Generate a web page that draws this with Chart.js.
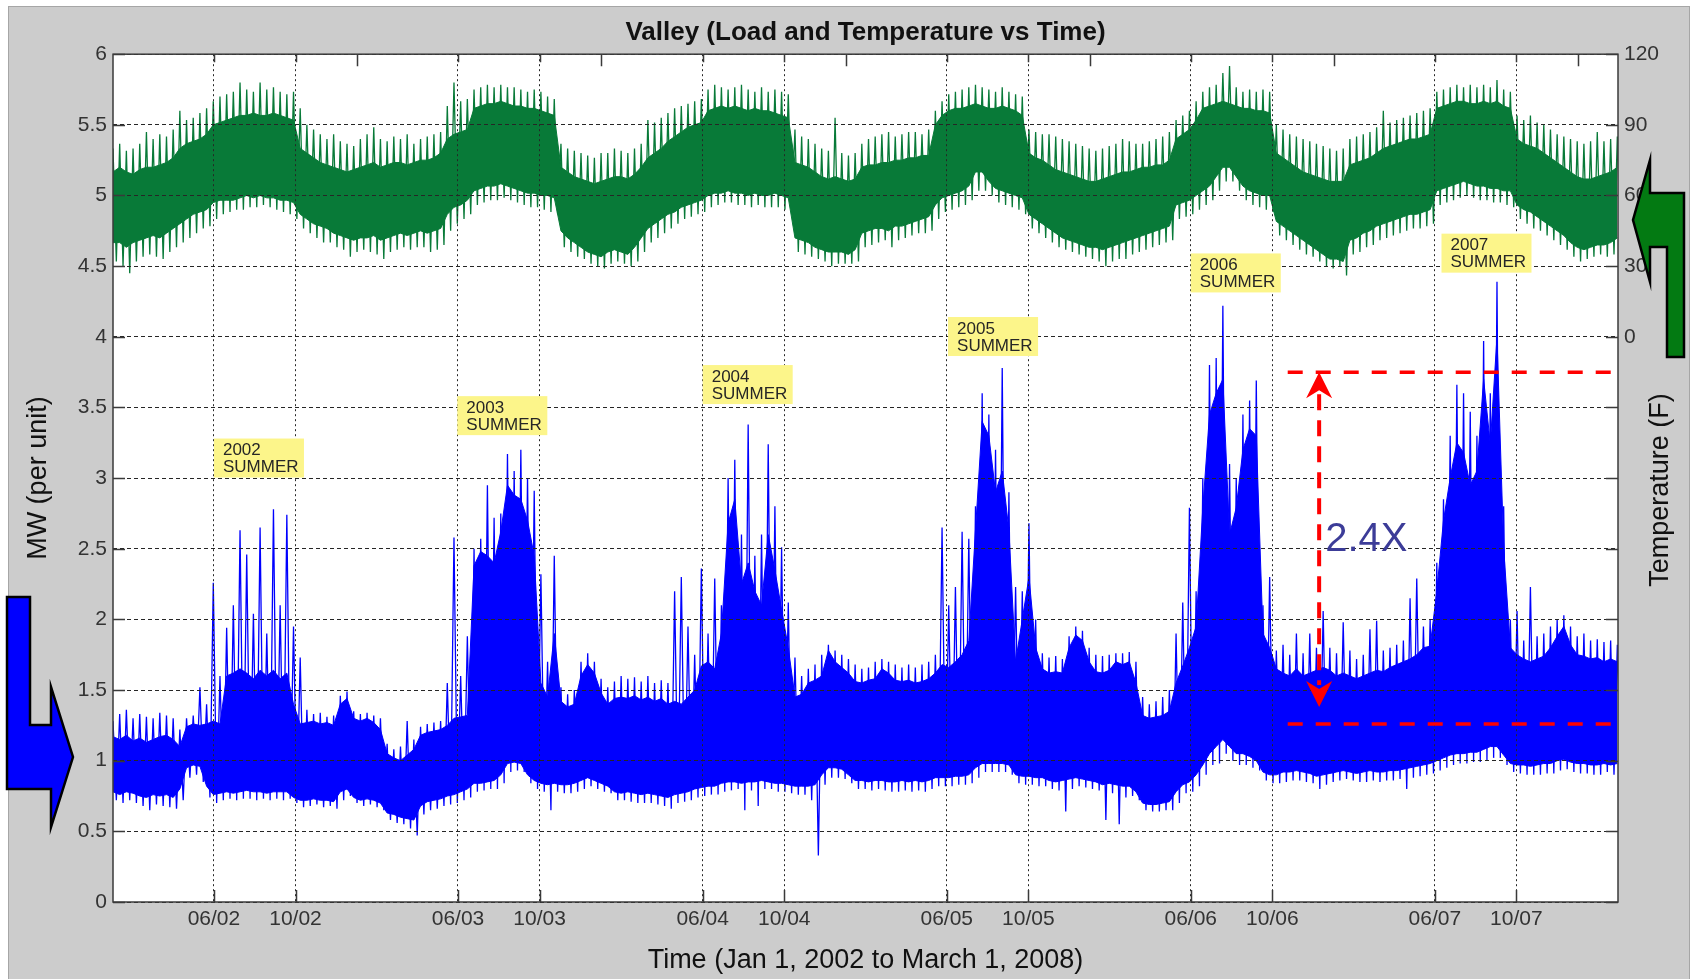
<!DOCTYPE html>
<html lang="en">
<head>
    <meta charset="UTF-8">
    <meta name="viewport" content="width=device-width, initial-scale=1.0">
    <title>Valley (Load and Temperature vs Time)</title>
    <script src="https://cdn.jsdelivr.net/npm/chart.js@4.4.1/dist/chart.umd.min.js"></script>
    <style>
        html, body { margin: 0; padding: 0; background: #fff; overflow: hidden; }
        canvas { display: block; }
    </style>
</head>
<body>

    <canvas id="chart" width="1692" height="979"></canvas>

    <script>
        // time axis: days counted from Jan 1 2002, one sample every 10 days up to Mar 1 2008
        const sampleStep = 10
        const endDay = 2251

        const xTickDays = [151, 273, 516, 638, 882, 1004, 1247, 1369, 1612, 1734, 1977, 2099]
        const xTickLabels = ['06/02', '10/02', '06/03', '10/03', '06/04', '10/04', '06/05', '10/05', '06/06', '10/06', '06/07', '10/07']
        const yearStartDays = [365, 730, 1096, 1461, 1826, 2191]
        const loadTicks = [0, 0.5, 1, 1.5, 2, 2.5, 3, 3.5, 4, 4.5, 5, 5.5, 6]
        const tempTicks = [0, 30, 60, 90, 120]

        // load, MW per unit (dense band edges and spike extremes per 10 days)
        const loadCoreHi = [
            1.17,1.15,1.18,1.14,1.16,1.13,1.15,1.17,1.18,1.15,
            1.10,1.24,1.26,1.25,1.26,1.28,1.26,1.60,1.62,1.65,
            1.62,1.58,1.64,1.60,1.64,1.58,1.62,1.40,1.26,1.27,
            1.28,1.26,1.27,1.25,1.40,1.44,1.30,1.28,1.30,1.27,
            1.22,1.05,1.02,1.00,1.04,1.08,1.18,1.20,1.21,1.22,
            1.25,1.30,1.31,1.32,2.38,2.48,2.45,2.40,2.62,2.95,
            2.88,2.85,2.70,2.45,1.55,1.45,1.90,1.42,1.38,1.40,
            1.60,1.68,1.62,1.48,1.40,1.44,1.45,1.44,1.46,1.43,
            1.45,1.42,1.44,1.40,1.42,1.40,1.45,1.50,1.67,1.70,
            1.65,1.90,2.68,2.85,2.25,2.40,2.20,2.10,2.60,2.35,
            2.07,1.80,1.45,1.47,1.55,1.57,1.60,1.78,1.70,1.66,
            1.62,1.56,1.55,1.57,1.58,1.65,1.62,1.57,1.56,1.57,
            1.55,1.56,1.58,1.62,1.68,1.66,1.70,1.75,1.85,2.63,
            3.40,3.30,2.90,3.05,2.63,1.70,2.00,2.30,1.80,1.65,
            1.62,1.63,1.62,1.80,1.89,1.85,1.70,1.63,1.62,1.64,
            1.70,1.68,1.70,1.55,1.32,1.30,1.31,1.32,1.35,1.55,
            1.67,1.80,1.95,2.79,3.45,3.60,3.70,2.60,2.79,3.20,
            3.35,3.30,1.90,1.80,1.65,1.62,1.60,1.65,1.60,1.62,
            1.64,1.66,1.64,1.60,1.62,1.60,1.58,1.60,1.62,1.64,
            1.63,1.66,1.68,1.70,1.72,1.75,1.80,1.81,2.20,2.70,
            3.00,3.25,3.18,2.95,3.05,3.70,3.24,4.00,2.51,1.80,
            1.75,1.72,1.70,1.72,1.74,1.80,1.88,1.95,1.82,1.75,
            1.74,1.72,1.73,1.70,1.72,1.70
        ]
        const loadCoreLo = [
            0.78,0.76,0.78,0.77,0.75,0.74,0.76,0.75,0.76,0.74,
            0.80,0.95,0.97,0.96,0.82,0.76,0.77,0.78,0.77,0.78,
            0.79,0.78,0.78,0.77,0.78,0.78,0.78,0.74,0.72,0.72,
            0.73,0.72,0.72,0.71,0.78,0.80,0.74,0.72,0.73,0.72,
            0.70,0.63,0.62,0.60,0.59,0.58,0.68,0.71,0.72,0.73,
            0.75,0.76,0.78,0.80,0.84,0.84,0.85,0.86,0.90,0.98,
            0.99,0.98,0.90,0.86,0.84,0.83,0.84,0.83,0.83,0.84,
            0.86,0.88,0.86,0.84,0.82,0.78,0.77,0.78,0.77,0.76,
            0.77,0.76,0.75,0.74,0.76,0.77,0.78,0.80,0.81,0.82,
            0.82,0.84,0.85,0.85,0.84,0.85,0.85,0.86,0.85,0.84,
            0.84,0.83,0.82,0.82,0.82,0.83,0.90,0.95,0.95,0.94,
            0.90,0.86,0.86,0.85,0.86,0.86,0.85,0.85,0.86,0.85,
            0.86,0.85,0.86,0.88,0.88,0.88,0.89,0.89,0.90,0.95,
            0.98,0.98,0.98,0.98,0.97,0.90,0.89,0.89,0.88,0.88,
            0.86,0.85,0.86,0.87,0.88,0.87,0.86,0.85,0.83,0.84,
            0.83,0.82,0.82,0.78,0.70,0.69,0.69,0.70,0.71,0.78,
            0.83,0.85,0.90,0.97,1.05,1.10,1.15,1.10,1.05,1.05,
            1.03,1.00,0.92,0.90,0.90,0.92,0.92,0.93,0.92,0.91,
            0.89,0.90,0.91,0.92,0.93,0.92,0.91,0.92,0.93,0.92,
            0.92,0.93,0.93,0.94,0.95,0.96,0.97,0.98,1.00,1.02,
            1.04,1.05,1.05,1.06,1.06,1.08,1.10,1.10,1.04,0.98,
            0.97,0.97,0.96,0.97,0.98,0.98,1.00,1.01,0.99,0.98,
            0.98,0.97,0.97,0.98,0.97,0.98
        ]
        const loadPeak = [
            1.28,1.33,1.36,1.30,1.33,1.31,1.30,1.34,1.32,1.30,
            1.22,1.30,1.32,1.52,1.40,2.26,1.60,1.94,2.10,2.63,
            2.46,2.04,2.65,1.90,2.78,2.10,2.74,1.95,1.73,1.36,
            1.33,1.34,1.31,1.32,1.46,1.49,1.35,1.33,1.34,1.32,
            1.30,1.12,1.08,1.10,1.28,1.15,1.24,1.26,1.27,1.28,
            1.55,2.58,1.60,1.88,2.50,2.57,2.95,2.72,2.75,3.17,
            3.05,3.20,3.00,2.91,2.32,1.70,2.45,1.52,1.47,1.50,
            1.70,1.76,1.70,1.58,1.52,1.56,1.60,1.58,1.59,1.56,
            1.60,1.55,1.57,1.55,2.20,2.30,1.95,1.75,2.36,1.90,
            2.29,2.10,3.00,3.13,2.60,3.38,2.45,2.60,3.24,2.80,
            2.51,2.12,1.73,1.60,1.65,1.68,1.75,1.82,1.78,1.75,
            1.72,1.68,1.65,1.66,1.70,1.72,1.70,1.68,1.66,1.68,
            1.66,1.68,1.70,1.75,2.65,2.10,2.23,2.62,2.57,2.80,
            3.60,3.45,3.20,3.78,2.90,2.23,2.20,2.68,2.00,1.76,
            1.73,1.74,1.72,1.88,1.95,1.92,1.80,1.75,1.74,1.75,
            1.76,1.76,1.77,1.70,1.45,1.40,1.42,1.45,1.50,1.90,
            2.12,2.79,2.20,3.00,3.80,3.85,4.22,3.10,3.00,3.45,
            3.55,3.69,2.10,2.30,1.78,1.82,1.75,1.90,1.76,1.90,
            1.80,2.06,1.80,1.76,1.98,1.78,1.72,1.75,1.93,1.99,
            1.78,1.80,1.82,1.85,2.15,2.29,1.95,2.00,2.40,2.85,
            3.30,3.66,3.60,3.47,3.30,3.97,3.60,4.39,2.80,2.00,
            2.06,1.85,2.23,1.88,1.90,1.95,2.00,2.03,1.95,1.88,
            1.90,1.85,1.86,1.84,1.85,1.82
        ]
        const loadDip = [
            0.72,0.70,0.72,0.70,0.68,0.65,0.69,0.68,0.67,0.66,
            0.72,0.88,0.90,0.85,0.74,0.70,0.72,0.73,0.72,0.73,
            0.73,0.72,0.73,0.72,0.73,0.72,0.73,0.70,0.67,0.68,
            0.69,0.67,0.68,0.66,0.72,0.75,0.70,0.68,0.69,0.67,
            0.65,0.58,0.56,0.55,0.52,0.47,0.62,0.65,0.66,0.68,
            0.69,0.70,0.72,0.74,0.78,0.79,0.80,0.80,0.84,0.92,
            0.93,0.92,0.84,0.80,0.78,0.65,0.78,0.77,0.77,0.78,
            0.80,0.82,0.80,0.78,0.77,0.72,0.72,0.71,0.70,0.70,
            0.70,0.69,0.68,0.66,0.70,0.71,0.72,0.74,0.75,0.76,
            0.76,0.78,0.79,0.80,0.65,0.79,0.68,0.80,0.80,0.78,
            0.78,0.77,0.76,0.76,0.72,0.33,0.83,0.88,0.88,0.87,
            0.84,0.80,0.80,0.79,0.80,0.79,0.78,0.78,0.79,0.78,
            0.79,0.78,0.80,0.82,0.82,0.82,0.83,0.83,0.84,0.88,
            0.92,0.92,0.92,0.92,0.90,0.84,0.83,0.83,0.82,0.82,
            0.80,0.79,0.64,0.80,0.82,0.81,0.80,0.79,0.58,0.77,
            0.55,0.74,0.75,0.72,0.65,0.64,0.64,0.65,0.65,0.70,
            0.77,0.78,0.82,0.90,0.97,0.98,1.05,1.00,0.97,0.97,
            0.95,0.93,0.86,0.84,0.84,0.85,0.86,0.86,0.85,0.84,
            0.80,0.83,0.85,0.86,0.87,0.86,0.85,0.85,0.86,0.85,
            0.86,0.86,0.87,0.80,0.88,0.89,0.90,0.91,0.93,0.95,
            0.97,0.98,0.98,0.99,0.99,1.00,1.02,1.02,0.97,0.92,
            0.91,0.90,0.90,0.90,0.91,0.91,0.93,0.94,0.92,0.91,
            0.91,0.90,0.90,0.92,0.90,0.92
        ]

        // temperature, degrees F (right axis)
        const tempCoreHi = [
            70,72,70,69,71,72,72,73,74,76,
            80,82,83,84,86,90,91,92,93,94,
            94,95,94,94,95,94,93,92,80,78,
            76,74,73,72,71,70,71,72,73,74,
            72,73,74,74,73,74,75,75,76,78,
            84,86,87,88,97,98,99,99,100,99,
            98,98,97,97,96,95,94,72,70,68,
            67,66,65,66,67,68,68,67,69,72,
            76,78,80,83,85,87,89,90,91,96,
            97,98,97,98,97,96,97,96,96,95,
            94,93,74,73,72,70,68,67,68,67,
            66,67,72,73,73,74,74,75,75,76,
            76,77,77,90,94,96,97,97,98,99,
            98,97,97,98,97,96,94,78,76,75,
            73,71,70,69,68,67,66,66,67,68,
            69,70,70,71,72,72,73,73,75,84,
            86,88,92,97,98,99,100,99,98,97,
            97,96,96,95,78,76,74,72,70,69,
            68,67,66,66,66,73,74,75,76,78,
            80,81,82,83,84,84,85,86,97,98,
            99,100,100,99,99,100,99,100,98,97,
            84,82,81,80,78,76,74,72,70,68,
            67,67,68,69,70,72
        ]
        const tempCoreLo = [
            40,40,38,40,41,42,43,42,44,46,
            48,50,52,53,54,57,58,58,58,59,
            60,59,60,59,59,58,58,57,52,50,
            48,47,46,44,43,42,41,42,42,43,
            41,42,43,44,43,44,45,44,45,46,
            52,55,56,58,62,63,64,64,65,64,
            63,62,61,61,60,60,59,45,42,40,
            38,36,35,34,36,37,36,35,38,42,
            46,48,50,52,53,55,56,57,58,60,
            61,61,62,61,61,60,61,60,60,61,
            60,59,42,41,40,38,37,36,36,36,
            35,37,44,45,46,46,45,47,47,48,
            49,50,51,56,59,60,61,62,64,70,
            70,66,63,62,61,60,59,52,50,48,
            46,44,42,41,40,39,38,38,37,38,
            39,40,41,42,43,44,45,46,47,56,
            57,58,60,62,64,68,72,72,68,64,
            62,61,60,60,49,47,45,43,41,39,
            37,35,33,33,32,41,42,44,45,47,
            48,49,50,51,52,52,53,54,62,63,
            64,65,66,65,64,64,63,63,62,62,
            56,54,53,51,49,47,45,43,40,38,
            37,38,39,39,40,42
        ]
        const tempPeak = [
            80,82,79,80,82,87,84,86,85,88,
            96,92,93,95,97,100,102,103,104,108,
            105,104,108,105,106,104,103,104,97,90,
            88,86,84,86,83,82,81,84,86,89,
            84,83,85,84,86,82,84,85,86,87,
            98,108,100,101,105,106,107,106,107,106,
            106,105,104,105,104,102,101,82,80,79,
            78,77,76,78,78,80,79,78,80,82,
            92,91,93,95,97,98,99,100,101,105,
            107,106,105,106,107,105,104,106,104,105,
            104,103,88,85,84,82,80,79,93,78,
            77,78,82,84,85,86,87,85,86,87,
            87,86,88,96,100,103,104,105,106,107,
            106,105,104,106,104,103,102,88,87,86,
            86,85,84,83,82,81,80,79,80,81,
            82,84,83,82,82,83,84,85,87,92,
            94,96,100,104,106,107,112,115,106,104,
            105,104,105,104,90,88,86,85,84,83,
            82,81,80,79,80,84,85,86,87,89,
            96,91,92,93,94,95,96,97,104,105,
            106,107,106,107,106,107,106,109,105,104,
            94,92,94,91,90,88,86,85,84,83,
            82,83,87,83,84,85
        ]
        const tempDip = [
            32,30,27,32,34,35,34,33,36,38,
            40,42,44,46,47,50,52,53,54,54,
            55,55,56,55,54,53,52,50,46,44,
            42,40,40,38,37,34,36,37,36,35,
            33,36,37,38,37,38,38,36,37,39,
            45,48,50,52,56,57,58,58,59,58,
            57,56,55,55,54,53,52,38,36,34,
            33,31,30,29,31,32,31,30,32,36,
            40,42,44,46,48,50,51,52,53,55,
            56,57,57,56,56,55,56,55,55,55,
            54,53,36,35,34,33,32,30,31,31,
            31,32,38,39,40,41,38,41,42,43,
            44,44,45,50,53,54,55,56,58,62,
            62,60,57,56,55,54,52,46,44,42,
            40,38,37,36,35,34,33,32,30,32,
            33,33,35,36,37,38,39,40,41,50,
            51,52,54,56,58,62,66,66,62,58,
            56,55,54,53,43,41,39,37,35,34,
            32,30,29,30,26,35,36,38,39,41,
            42,43,44,45,46,46,47,48,56,57,
            58,59,60,59,58,58,57,57,56,55,
            50,48,46,45,43,41,39,37,34,32,
            33,34,35,34,35,36
        ]

        // yellow notes: text, left edge day, top edge (MW per unit)
        const notes = [
            ['2002', 151, 3.28], ['2003', 515, 3.58], ['2004', 882, 3.80],
            ['2005', 1249, 4.14], ['2006', 1612, 4.59], ['2007', 1987, 4.73]
        ]
        const rangeTop = 3.75
        const rangeBottom = 1.26
        const rangeFrom = 1757
        const rangeTo = 2243
        const rangeArrowDay = 1804

        const green = '#087a38'
        const blue = '#0000ff'
        const fontFamily = '"Liberation Sans", Arial, Helvetica, sans-serif'

        const pts = arr => arr.map((v, i) => ({x: i * sampleStep, y: v}))
        // peak at the start of each 10-day bucket, dip half way through it
        const zigzag = (hi, lo) => hi.flatMap((v, i) => [
            {x: i * sampleStep, y: v},
            {x: i * sampleStep + sampleStep / 2, y: lo[i]}
        ])

        const band = (data, color, axis, fill) => ({
            type: 'line', data, yAxisID: axis, borderColor: color, backgroundColor: color,
            borderWidth: 1, pointRadius: 0, tension: 0, fill
        })
        const swing = (data, color, axis) => ({
            type: 'line', data, yAxisID: axis, borderColor: color,
            borderWidth: 1.3, pointRadius: 0, tension: 0, fill: false
        })

        const decorations = {
            id: 'decorations',
            beforeDraw(chart) {
                const {ctx, chartArea: a} = chart
                ctx.save()
                ctx.fillStyle = '#ffffff'
                ctx.fillRect(0, 0, chart.width, chart.height)
                ctx.fillStyle = '#cccccc'
                ctx.fillRect(8, 6, chart.width - 10, chart.height)
                ctx.strokeStyle = '#a6a6a6'
                ctx.lineWidth = 1
                ctx.strokeRect(8.5, 6.5, chart.width - 11, chart.height)
                ctx.fillStyle = '#ffffff'
                ctx.fillRect(a.left, a.top, a.right - a.left, a.bottom - a.top)
                ctx.restore()
            },
            afterDraw(chart) {
                const {ctx, chartArea: a} = chart
                const x = chart.scales.x
                const y = chart.scales.y
                ctx.save()

                // axes box and inward ticks
                ctx.setLineDash([])
                ctx.strokeStyle = '#3a3a3a'
                ctx.lineWidth = 1.5
                ctx.strokeRect(a.left, a.top, a.right - a.left, a.bottom - a.top)
                ctx.beginPath()
                loadTicks.forEach(v => {
                    const py = Math.round(y.getPixelForValue(v)) + 0.5
                    ctx.moveTo(a.left, py); ctx.lineTo(a.left + 12, py)
                    ctx.moveTo(a.right, py); ctx.lineTo(a.right - 12, py)
                })
                xTickDays.forEach(d => {
                    const px = Math.round(x.getPixelForValue(d)) + 0.5
                    ctx.moveTo(px, a.bottom); ctx.lineTo(px, a.bottom - 12)
                    ctx.moveTo(px, a.top); ctx.lineTo(px, a.top + 8)
                })
                yearStartDays.forEach(d => {
                    const px = Math.round(x.getPixelForValue(d)) + 0.5
                    ctx.moveTo(px, a.top); ctx.lineTo(px, a.top + 12)
                })
                ctx.stroke()

                // yellow notes
                ctx.font = '17px ' + fontFamily
                ctx.textBaseline = 'middle'
                ctx.textAlign = 'left'
                notes.forEach(([year, day, top]) => {
                    const bx = x.getPixelForValue(day)
                    const by = y.getPixelForValue(top)
                    ctx.fillStyle = '#fcf58a'
                    ctx.fillRect(bx, by, 90, 39)
                    ctx.fillStyle = '#262626'
                    ctx.fillText(year, bx + 9, by + 12)
                    ctx.fillText('SUMMER', bx + 9, by + 29)
                })

                // 2.4X range marker
                const yTop = y.getPixelForValue(rangeTop)
                const yBot = y.getPixelForValue(rangeBottom)
                const ax = x.getPixelForValue(rangeArrowDay)
                ctx.strokeStyle = '#ff0000'
                ctx.fillStyle = '#ff0000'
                ctx.lineWidth = 3.5
                ctx.setLineDash([15, 13])
                ctx.beginPath()
                ctx.moveTo(x.getPixelForValue(rangeFrom), yTop)
                ctx.lineTo(x.getPixelForValue(rangeTo), yTop)
                ctx.moveTo(x.getPixelForValue(rangeFrom), yBot)
                ctx.lineTo(x.getPixelForValue(rangeTo), yBot)
                ctx.stroke()
                const tipBot = yBot - 17
                ctx.lineWidth = 4
                ctx.setLineDash([16, 10])
                ctx.beginPath()
                ctx.moveTo(ax, yTop + 22)
                ctx.lineTo(ax, tipBot - 22)
                ctx.stroke()
                ctx.setLineDash([])
                ctx.beginPath()
                ctx.moveTo(ax, yTop); ctx.lineTo(ax - 13, yTop + 26); ctx.lineTo(ax, yTop + 18); ctx.lineTo(ax + 13, yTop + 26)
                ctx.closePath()
                ctx.moveTo(ax, tipBot); ctx.lineTo(ax - 13, tipBot - 26); ctx.lineTo(ax, tipBot - 18); ctx.lineTo(ax + 13, tipBot - 26)
                ctx.closePath()
                ctx.fill()
                ctx.fillStyle = '#3c3c98'
                ctx.font = '40px ' + fontFamily
                ctx.fillText('2.4X', ax + 6, y.getPixelForValue(2.56))

                // side arrows
                ctx.lineWidth = 2.5
                ctx.strokeStyle = '#000000'
                ctx.lineJoin = 'miter'
                const poly = (points, fill) => {
                    ctx.beginPath()
                    points.forEach(([px, py], i) => i ? ctx.lineTo(px, py) : ctx.moveTo(px, py))
                    ctx.closePath()
                    ctx.fillStyle = fill
                    ctx.fill()
                    ctx.stroke()
                }
                poly([[7, 597], [30, 597], [30, 725], [51, 725], [51, 687], [73, 757], [51, 827], [51, 789], [7, 789]], blue)
                poly([[1684, 193], [1650, 193], [1650, 160], [1633, 220], [1650, 282], [1650, 247], [1667, 247], [1667, 357], [1684, 357]], '#037a12')

                // right axis title, reading upwards
                ctx.translate(a.right + 43, (a.top + a.bottom) / 2 + 12)
                ctx.rotate(-Math.PI / 2)
                ctx.textAlign = 'center'
                ctx.fillStyle = '#111111'
                ctx.font = '27px ' + fontFamily
                ctx.fillText('Temperature (F)', 0, 0)
                ctx.restore()
            }
        }

        Chart.defaults.font.family = fontFamily

        const ctx = document.getElementById('chart').getContext('2d')
        const myChart = new Chart(ctx, {
            type: 'line',
            data: {
                datasets: [
                    band(pts(tempCoreHi), green, 'yT', '+1'),
                    band(pts(tempCoreLo), green, 'yT', false),
                    swing(zigzag(tempPeak, tempDip), green, 'yT'),
                    band(pts(loadCoreHi), blue, 'y', '+1'),
                    band(pts(loadCoreLo), blue, 'y', false),
                    swing(zigzag(loadPeak, loadDip), blue, 'y')
                ]
            },
            options: {
                responsive: false,
                animation: false,
                events: [],
                layout: { padding: 0 },
                plugins: {
                    legend: { display: false },
                    tooltip: { enabled: false },
                    title: {
                        display: true,
                        text: 'Valley (Load and Temperature vs Time)',
                        font: { size: 26, weight: 'bold' },
                        color: '#111111',
                        fullSize: false,
                        padding: { top: 17, bottom: 6 }
                    }
                },
                scales: {
                    x: {
                        type: 'linear',
                        min: 0,
                        max: endDay,
                        offset: false,
                        afterBuildTicks: s => { s.ticks = xTickDays.map(v => ({value: v})) },
                        afterFit: s => { s.height = 77 },
                        ticks: {
                            autoSkip: false,
                            maxRotation: 0,
                            padding: 5,
                            color: '#333333',
                            font: { size: 21 },
                            callback: v => xTickLabels[xTickDays.indexOf(v)]
                        },
                        grid: { color: '#262626', lineWidth: 1, drawTicks: false, offset: false, z: 1 },
                        border: { display: false, dash: [2, 3] },
                        title: {
                            display: true,
                            text: 'Time (Jan 1, 2002 to March 1, 2008)',
                            color: '#111111',
                            font: { size: 27 },
                            padding: { top: 0, bottom: 2 }
                        }
                    },
                    y: {
                        position: 'left',
                        min: 0,
                        max: 6,
                        afterBuildTicks: s => { s.ticks = loadTicks.map(v => ({value: v})) },
                        afterFit: s => { s.width = 113 },
                        ticks: { padding: 6, color: '#333333', font: { size: 21 }, callback: v => String(v) },
                        grid: { color: '#262626', lineWidth: 1, drawTicks: false, z: 1 },
                        border: { display: false, dash: [4, 3] },
                        title: {
                            display: true,
                            text: 'MW (per unit)',
                            color: '#111111',
                            font: { size: 27 },
                            padding: { top: 22, bottom: 0 }
                        }
                    },
                    yT: {
                        position: 'right',
                        min: -240,
                        max: 120,
                        afterBuildTicks: s => { s.ticks = tempTicks.map(v => ({value: v})) },
                        afterFit: s => { s.width = 74 },
                        ticks: { padding: 6, color: '#333333', font: { size: 21 }, callback: v => String(v) },
                        grid: { display: false, drawTicks: false },
                        border: { display: false }
                    }
                }
            },
            plugins: [decorations]
        })
    </script>
</body>
</html>
